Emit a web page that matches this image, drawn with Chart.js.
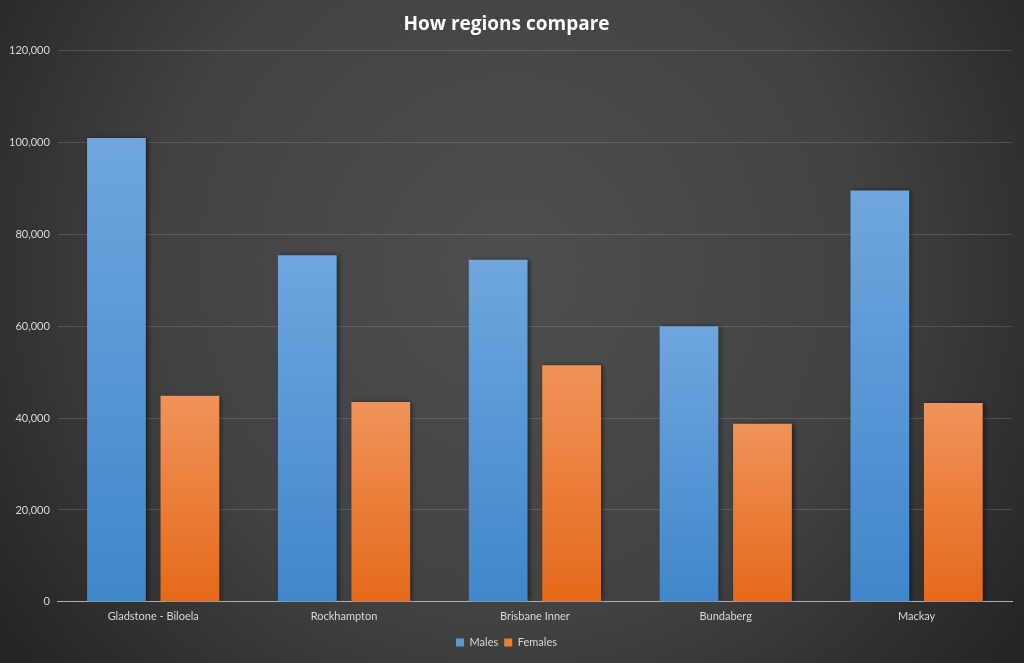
<!DOCTYPE html>
<html>
<head>
<meta charset="utf-8">
<script src="https://cdn.jsdelivr.net/npm/chart.js@4"></script>
<style>
html,body{margin:0;padding:0;background:#2a2a2a;}
#wrap{width:1024px;height:663px;position:relative;}
</style>
</head>
<body>
<div id="wrap"><canvas id="c" width="1024" height="663"></canvas></div>
<script>
const categories = ["Gladstone - Biloela", "Rockhampton", "Brisbane Inner", "Bundaberg", "Mackay"];
const males = [101000, 75500, 74500, 60000, 89600];
const females = [44900, 43500, 51500, 38800, 43300];
const yTicks = [0, 20000, 40000, 60000, 80000, 100000, 120000];

function barGradient(ctx, top, bottom) {
  const chart = ctx.chart;
  const area = chart.chartArea;
  if (!area) return top;
  const v = ctx.raw;
  if (v === undefined || v === null) return top;
  const y = chart.scales.y;
  const y0 = y.getPixelForValue(v);
  const y1 = y.getPixelForValue(0);
  if (!isFinite(y0) || !isFinite(y1) || y0 === y1) return top;
  const g = chart.ctx.createLinearGradient(0, y0, 0, y1);
  g.addColorStop(0, top);
  g.addColorStop(1, bottom);
  return g;
}

const bgPlugin = {
  id: 'bg',
  beforeDraw(chart) {
    const c = chart.ctx, w = chart.width, h = chart.height;
    c.save();
    const g = c.createRadialGradient(w * 0.5, h * 0.4, 10, w * 0.5, h * 0.4, w * 0.62);
    g.addColorStop(0, '#4e4e4e');
    g.addColorStop(0.55, '#424242');
    g.addColorStop(1, '#242424');
    c.fillStyle = g;
    c.fillRect(0, 0, w, h);
    c.restore();
  },
  beforeDatasetsDraw(chart) {
    const c = chart.ctx;
    c.save();
    c.shadowColor = 'rgba(0,0,0,0.55)';
    c.shadowBlur = 5;
    c.shadowOffsetX = 2;
    c.shadowOffsetY = 0;
  },
  afterDatasetsDraw(chart) {
    chart.ctx.restore();
  }
};

new Chart(document.getElementById('c'), {
  type: 'bar',
  data: {
    labels: categories,
    datasets: [
      {
        label: 'Males',
        data: males,
        backgroundColor: ctx => barGradient(ctx, '#6fa6de', '#3f87cb'),
        borderWidth: 0
      },
      {
        label: 'Females',
        data: females,
        backgroundColor: ctx => barGradient(ctx, '#f0935a', '#e5691a'),
        borderWidth: 0
      }
    ]
  },
  options: {
    responsive: false,
    animation: false,
    devicePixelRatio: 1,
    categoryPercentage: 0.77,
    barPercentage: 0.8,
    layout: { padding: { left: 1, right: 12, top: 4, bottom: 5 } },
    plugins: {
      title: {
        display: true,
        text: 'How regions compare',
        color: '#ffffff',
        font: { family: 'Open Sans', size: 19, weight: 'bold' },
        padding: { top: 9, bottom: 15 }
      },
      legend: {
        display: true,
        position: 'bottom',
        labels: {
          color: '#d9d9d9',
          boxWidth: 8,
          boxHeight: 8,
          padding: 6,
          font: { family: 'Lato', size: 11 },
          generateLabels(chart) {
            const cols = ['#5b9bd5', '#ed7d31'];
            return chart.data.datasets.map((d, i) => ({
              text: d.label, fillStyle: cols[i], strokeStyle: cols[i], lineWidth: 0,
              fontColor: '#d9d9d9', datasetIndex: i, hidden: false
            }));
          }
        }
      },
      tooltip: { enabled: false }
    },
    scales: {
      x: {
        grid: { display: false, drawTicks: false },
        border: { display: true, color: '#b0b0b0', width: 1 },
        ticks: { color: '#d9d9d9', font: { family: 'Lato', size: 11 }, padding: 8 }
      },
      y: {
        min: 0,
        max: 120000,
        afterBuildTicks(scale) { scale.ticks = yTicks.map(v => ({ value: v })); },
        grid: { color: 'rgba(255,255,255,0.14)', drawTicks: false },
        border: { display: false },
        ticks: {
          color: '#d9d9d9',
          font: { family: 'Lato', size: 11 },
          padding: 8,
          callback: v => v.toLocaleString('en-US')
        }
      }
    }
  },
  plugins: [bgPlugin]
});
</script>
</body>
</html>
